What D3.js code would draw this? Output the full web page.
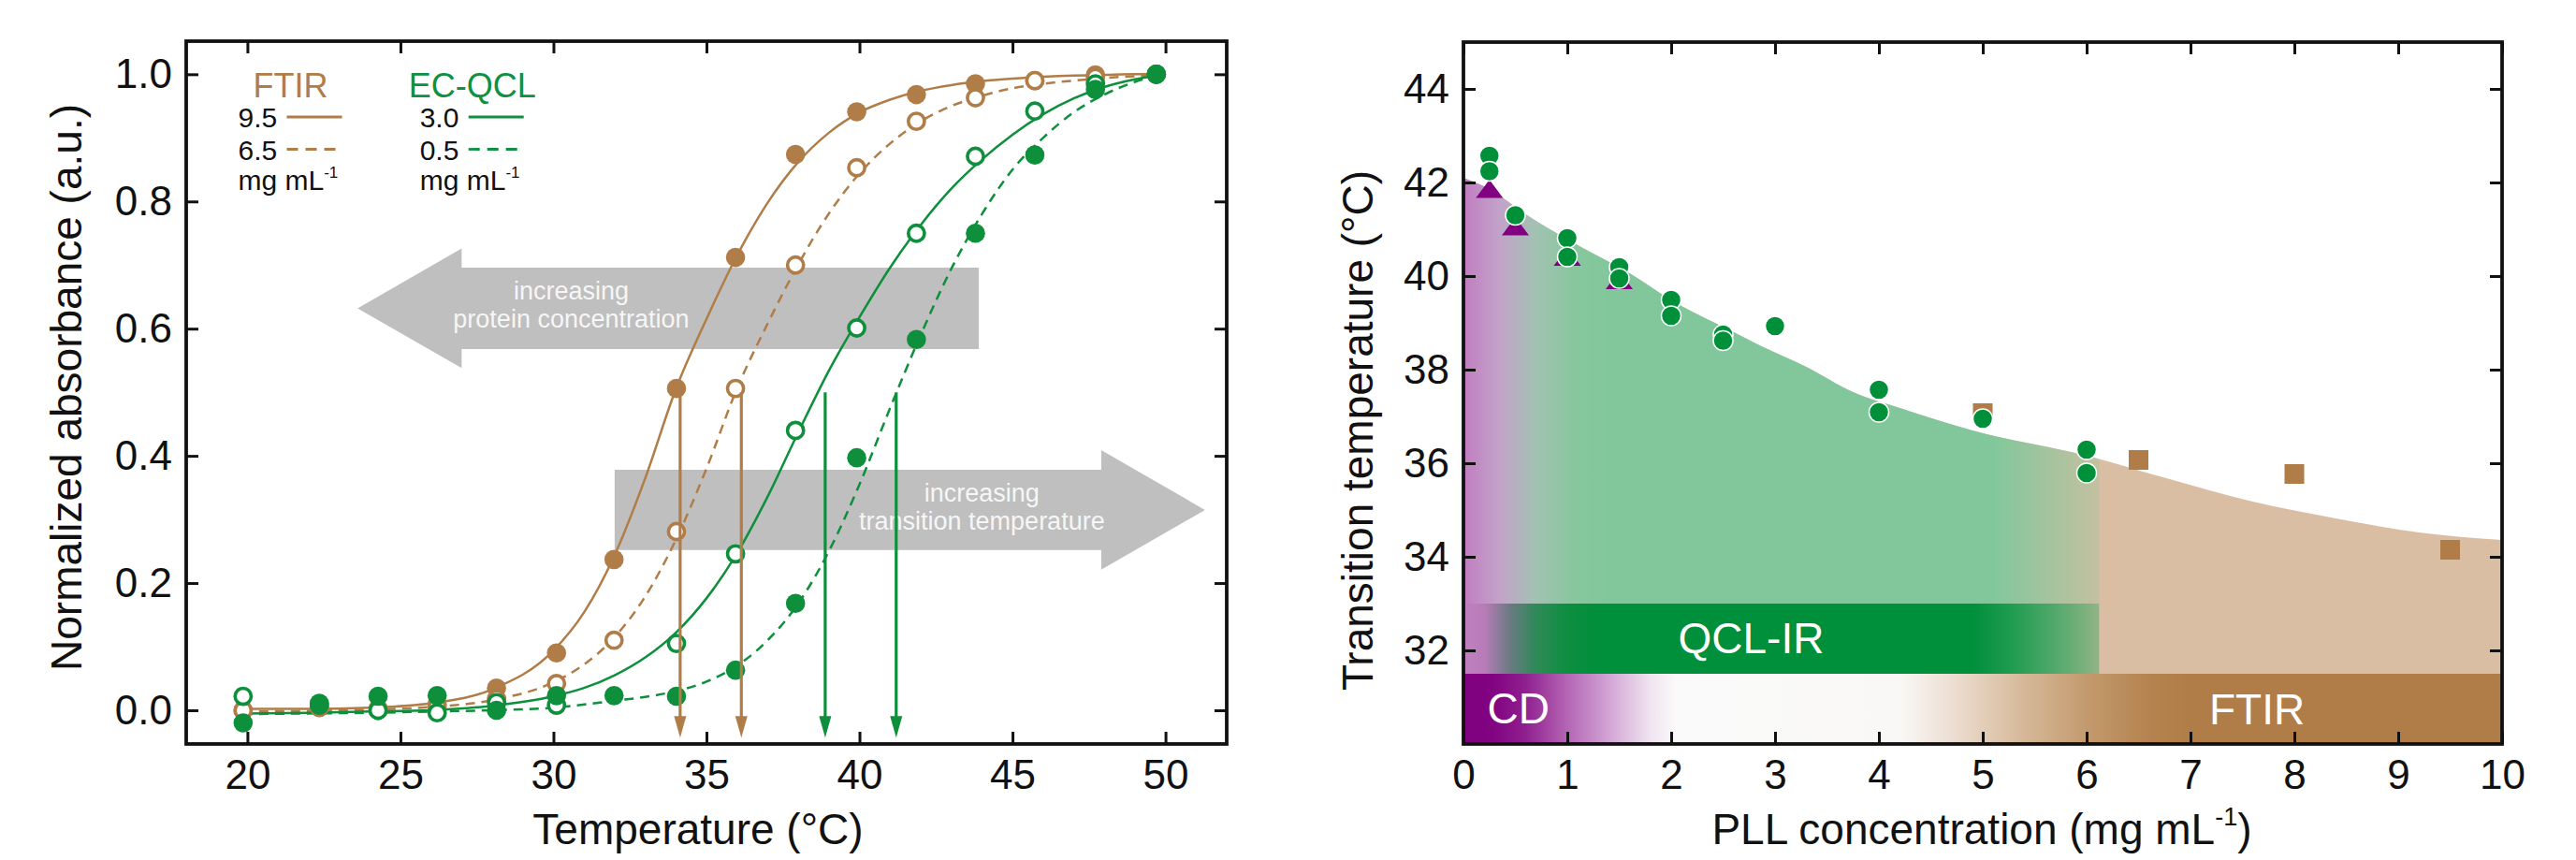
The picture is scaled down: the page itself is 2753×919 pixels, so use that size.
<!DOCTYPE html>
<html>
<head>
<meta charset="utf-8">
<script src="https://cdn.jsdelivr.net/npm/d3@7"></script>
<style>
body { margin: 0; background: #fff; }
svg text { font-family: "Liberation Sans", Arial, Helvetica, sans-serif; }
</style>
</head>
<body>
<svg id="chart" width="2753" height="919"></svg>
<script>
// ---------- left panel: melting curves ----------
var temps  = [19.86, 22.35, 24.27, 26.2, 28.14, 30.1, 31.98, 34.02, 35.95, 37.91, 39.91, 41.86, 43.79, 45.73, 47.71, 49.7];
var ftir95 = [0.0, 0.004, 0.003, 0.009, 0.035, 0.09, 0.237, 0.506, 0.712, 0.874, 0.941, 0.968, 0.985, 0.99, 0.999, 1.0];
var ftir65 = [0.0, 0.005, 0.0, 0.006, 0.018, 0.042, 0.11, 0.281, 0.506, 0.70, 0.853, 0.926, 0.963, 0.99, 0.995, 1.0];
var qcl30  = [0.022, 0.008, 0.0, -0.004, 0.012, 0.008, null, 0.105, 0.246, 0.44, 0.601, 0.75, 0.871, 0.942, 0.985, 1.0];
var qcl05  = [-0.02, 0.011, 0.022, 0.023, 0.0, 0.023, 0.023, 0.022, 0.063, 0.168, 0.397, 0.583, 0.75, 0.873, 0.976, 1.0];

var fitTemps = [19.86, 22, 24, 26, 28, 30, 31, 32, 33, 34, 35, 36, 37, 38, 39, 40, 41, 42, 43, 44, 45, 46, 47, 48, 49, 49.7];
var fit95 = [0.002, 0.002, 0.004, 0.011, 0.033, 0.094, 0.154, 0.244, 0.365, 0.505, 0.615, 0.715, 0.798, 0.862, 0.908, 0.94, 0.96, 0.974, 0.983, 0.989, 0.993, 0.996, 0.998, 0.999, 1.0, 1.0];
var fit65 = [-0.002, -0.001, 0.001, 0.005, 0.016, 0.044, 0.072, 0.115, 0.179, 0.268, 0.38, 0.506, 0.608, 0.701, 0.781, 0.844, 0.891, 0.926, 0.95, 0.966, 0.978, 0.985, 0.99, 0.994, 0.997, 0.998];
var fit30 = [-0.005, -0.004, -0.002, 0.0, 0.007, 0.022, 0.035, 0.055, 0.083, 0.122, 0.176, 0.247, 0.336, 0.437, 0.534, 0.618, 0.696, 0.763, 0.82, 0.866, 0.905, 0.937, 0.962, 0.98, 0.992, 0.998];
var fit05 = [-0.006, -0.005, -0.004, -0.002, 0.0, 0.004, 0.009, 0.015, 0.021, 0.03, 0.045, 0.07, 0.11, 0.168, 0.25, 0.355, 0.475, 0.59, 0.694, 0.78, 0.85, 0.9, 0.94, 0.968, 0.988, 0.998];

var midTemps  = [34.14, 36.14, 38.88, 41.2];
var midColors = ["brown", "brown", "green", "green"];

var xTicksL = [20, 25, 30, 35, 40, 45, 50];
var yTicksL = [0, 0.2, 0.4, 0.6, 0.8, 1.0];

// ---------- right panel: transition temperature ----------
var qclConc  = [0.25, 0.25, 0.5, 1, 1, 1.5, 1.5, 2, 2, 2.5, 2.5, 3, 4, 4, 5, 6, 6];
var qclTm    = [42.57, 42.24, 41.3, 40.81, 40.41, 40.19, 39.95, 39.49, 39.15, 38.75, 38.62, 38.93, 37.57, 37.09, 36.95, 36.29, 35.79];
var ftirConc = [5, 6.5, 8, 9.5];
var ftirTm   = [37.07, 36.07, 35.77, 34.15];
var cdConc   = [0.25, 0.5, 1, 1.5];
var cdTm     = [41.8, 41.0, 40.35, 39.85];
var edgeConc = [0, 0.25, 0.6, 1.1, 1.6, 2.05, 2.55, 2.85, 3.3, 3.75, 4.2, 4.9, 6.0, 6.8, 7.6, 8.4, 9.2, 10];
var edgeTm   = [42.1, 41.86, 41.32, 40.66, 40.06, 39.42, 38.86, 38.52, 38.06, 37.52, 37.18, 36.7, 36.16, 35.66, 35.18, 34.82, 34.52, 34.36];

var xTicksR = [0, 1, 2, 3, 4, 5, 6, 7, 8, 9, 10];
var yTicksR = [32, 34, 36, 38, 40, 42, 44];

var col = { brown: "#b07d48", green: "#0d8f3c", dark: "#111" };

var svg = d3.select("#chart");
var defs = svg.append("defs");

var xL = d3.scaleLinear().domain([18, 52]).range([199, 1311]);
var yL = d3.scaleLinear().domain([-0.053, 1.052]).range([795, 44]);
var xR = d3.scaleLinear().domain([0, 10]).range([1564, 2674]);
var yR = d3.scaleLinear().domain([30, 45]).range([795, 45]);

function frameAxes(x, y, xt, yt, fmtY) {
    var g = svg.append("g");
    var x0 = x.range()[0], x1 = x.range()[1], y0 = y.range()[0], y1 = y.range()[1];
    g.append("g").attr("transform", `translate(0,${y0})`)
        .call(d3.axisBottom(x).tickValues(xt).tickSize(-13).tickPadding(17).tickFormat(d3.format("d")));
    g.append("g").attr("transform", `translate(0,${y1})`)
        .call(d3.axisTop(x).tickValues(xt).tickSize(-13).tickFormat(""));
    g.append("g").attr("transform", `translate(${x0},0)`)
        .call(d3.axisLeft(y).tickValues(yt).tickSize(-13).tickPadding(15).tickFormat(fmtY));
    g.append("g").attr("transform", `translate(${x1},0)`)
        .call(d3.axisRight(y).tickValues(yt).tickSize(-13).tickFormat(""));
    g.selectAll(".domain").remove();
    g.selectAll(".tick line").attr("stroke", col.dark).attr("stroke-width", 3);
    g.selectAll(".tick text").attr("font-size", 44).attr("fill", col.dark)
        .attr("font-family", '"Liberation Sans", Arial, sans-serif');
    g.append("rect").attr("x", x0).attr("y", y1).attr("width", x1 - x0).attr("height", y0 - y1)
        .attr("fill", "none").attr("stroke", col.dark).attr("stroke-width", 3.8);
}

// ===== LEFT PANEL =====
// big grey arrows
var grey = "#bfbfbf";
function hArrow(tail, headBase, tip, yc, bh, hh) {
    return [[tail, yc + bh], [headBase, yc + bh], [headBase, yc + hh], [tip, yc],
            [headBase, yc - hh], [headBase, yc - bh], [tail, yc - bh]];
}
var polyLine = d3.line().x(d => xL(d[0])).y(d => yL(d[1]));
svg.append("path").attr("d", polyLine(hArrow(43.9, 27.0, 23.6, 0.632, 0.064, 0.094)) + "Z").attr("fill", grey);
svg.append("path").attr("d", polyLine(hArrow(32.0, 47.9, 51.29, 0.315, 0.063, 0.094)) + "Z").attr("fill", grey);

function arrowText(xc, lines, ys) {
    var t = svg.append("text").attr("text-anchor", "middle").attr("font-size", 27).attr("fill", "#f6f6f6");
    lines.forEach((s, i) => t.append("tspan").attr("x", xL(xc)).attr("y", yL(ys[i])).text(s));
}
arrowText(30.58, ["increasing", "protein concentration"], [0.646, 0.602]);
arrowText(44.0, ["increasing", "transition temperature"], [0.3287, 0.2835]);

// fitted curves
var fitLine = d3.line().x(d => xL(d[0])).y(d => yL(d[1])).curve(d3.curveMonotoneX);
[[fit95, col.brown, null], [fit65, col.brown, "10,7"], [fit30, col.green, null], [fit05, col.green, "10,7"]]
    .forEach(function (s) {
        svg.append("path").datum(d3.zip(fitTemps, s[0])).attr("d", fitLine)
            .attr("fill", "none").attr("stroke", s[1]).attr("stroke-width", 2.5)
            .attr("stroke-dasharray", s[2]);
    });

// data points
function dots(vals, color, open) {
    svg.append("g").selectAll("circle")
        .data(d3.zip(temps, vals).filter(d => d[1] != null))
        .join("circle")
        .attr("cx", d => xL(d[0])).attr("cy", d => yL(d[1]))
        .attr("r", open ? 8.6 : 10.3)
        .attr("fill", open ? "#fff" : color)
        .attr("stroke", open ? color : "none")
        .attr("stroke-width", 3.6);
}
dots(ftir95, col.brown, false);
dots(ftir65, col.brown, true);
dots(qcl30, col.green, true);
dots(qcl05, col.green, false);

// midpoint arrows
var arrG = svg.append("g");
midTemps.forEach(function (t, i) {
    var c = col[midColors[i]], xp = xL(t), yTop = yL(0.5), yTip = yL(-0.043);
    arrG.append("line").attr("x1", xp).attr("x2", xp).attr("y1", yTop).attr("y2", yTip - 16)
        .attr("stroke", c).attr("stroke-width", 3.2);
    arrG.append("path").attr("d", `M${xp - 6.5},${yTip - 23}L${xp + 6.5},${yTip - 23}L${xp},${yTip}Z`).attr("fill", c);
});

frameAxes(xL, yL, xTicksL, yTicksL, d3.format(".1f"));

// legend
function legendBlock(x, title, color, vals) {
    svg.append("text").attr("x", x + 56).attr("y", 104).attr("text-anchor", "middle")
        .attr("font-size", 36).attr("fill", color).text(title);
    vals.forEach(function (v, i) {
        var by = [136, 170.5][i];
        svg.append("text").attr("x", x).attr("y", by).attr("font-size", 30).attr("fill", col.dark).text(v);
        svg.append("line").attr("x1", x + 52).attr("x2", x + 111).attr("y1", by - 11).attr("y2", by - 11)
            .attr("stroke", color).attr("stroke-width", 2.8).attr("stroke-dasharray", i ? "12,8" : null);
    });
    var u = svg.append("text").attr("x", x).attr("y", 203).attr("font-size", 30).attr("fill", col.dark);
    u.append("tspan").text("mg mL");
    u.append("tspan").attr("font-size", 17).attr("dy", -13).text("-1");
}
legendBlock(254.5, "FTIR", col.brown, ["9.5", "6.5"]);
legendBlock(448.7, "EC-QCL", "#109040", ["3.0", "0.5"]);

// titles
svg.append("text").attr("x", 746).attr("y", 902).attr("text-anchor", "middle")
    .attr("font-size", 46).attr("fill", col.dark).text("Temperature (°C)");
svg.append("text").attr("transform", "translate(87,414) rotate(-90)").attr("text-anchor", "middle")
    .attr("font-size", 46).attr("fill", col.dark).text("Normalized absorbance (a.u.)");

// ===== RIGHT PANEL =====
function grad(id, stops) {
    var g = defs.append("linearGradient").attr("id", id).attr("gradientUnits", "userSpaceOnUse")
        .attr("x1", xR(0)).attr("x2", xR(10)).attr("y1", 0).attr("y2", 0);
    stops.forEach(s => g.append("stop").attr("offset", s[0] / 10).attr("stop-color", s[1])
        .attr("stop-opacity", s.length > 2 ? s[2] : 1));
}
grad("lightGrad", [[0, "#c17dc2"], [0.35, "#c2a3c9"], [0.7, "#a2c2b2"], [1.05, "#88c69f"], [1.4, "#82c79b"],
                   [5.1, "#82c79b"], [6.12, "#82c79b", 0.25], [10, "#82c79b", 0.25]]);
grad("qclGrad", [[0, "#c080c0"], [0.2, "#b87cb8"], [0.45, "#6a7a80"], [0.7, "#2e8a58"], [1.0, "#0e8e40"], [1.3, "#008f3a"],
                 [4.9, "#008f3a"], [6.12, "#008f3a", 0.25], [10, "#008f3a", 0.25]]);
grad("cdGrad", [[0, "#800080"], [0.3, "#820482"], [0.6, "#902090"], [1.0, "#b466b4"], [1.4, "#d2a4d4"], [1.8, "#f0e4f0"],
                [2.05, "#fafafa"], [4.2, "#f9f8f6"], [4.8, "#ead9ca"], [5.4, "#d6b898"], [6.0, "#c39a6e"], [6.6, "#b5834f"],
                [7.0, "#b07d48"], [10, "#b07d48"]]);

defs.append("clipPath").attr("id", "qclClip").append("rect")
    .attr("x", xR(0)).attr("y", yR(45)).attr("width", xR(6.12) - xR(0)).attr("height", yR(30) - yR(45));

var edge = d3.zip(edgeConc, edgeTm);
var area = d3.area().x(d => xR(d[0])).y0(yR(31.5)).y1(d => yR(d[1])).curve(d3.curveMonotoneX);
svg.append("path").datum(edge).attr("d", area).attr("fill", "#d9bea3");
svg.append("path").datum(edge).attr("d", area).attr("fill", "url(#lightGrad)").attr("clip-path", "url(#qclClip)");
svg.append("rect").attr("x", xR(0)).attr("y", yR(33)).attr("width", xR(6.12) - xR(0)).attr("height", yR(31.5) - yR(33))
    .attr("fill", "url(#qclGrad)");
svg.append("rect").attr("x", xR(0)).attr("y", yR(31.5)).attr("width", xR(10) - xR(0)).attr("height", yR(30) - yR(31.5))
    .attr("fill", "url(#cdGrad)");

svg.append("text").attr("x", xR(2.77)).attr("y", yR(31.94)).attr("text-anchor", "middle")
    .attr("font-size", 46).attr("fill", "#fff").text("QCL-IR");
svg.append("text").attr("x", xR(0.23)).attr("y", yR(30.44))
    .attr("font-size", 46).attr("fill", "#fff").text("CD");
svg.append("text").attr("x", xR(7.64)).attr("y", yR(30.42)).attr("text-anchor", "middle")
    .attr("font-size", 46).attr("fill", "#fff").text("FTIR");

// FTIR squares
svg.append("g").selectAll("rect").data(d3.zip(ftirConc, ftirTm)).join("rect")
    .attr("x", d => xR(d[0]) - 10.5).attr("y", d => yR(d[1]) - 10.5).attr("width", 21).attr("height", 21)
    .attr("fill", col.brown);
// CD triangles
svg.append("g").selectAll("path").data(d3.zip(cdConc, cdTm)).join("path")
    .attr("d", "M0,-13L14.5,6.5L-14.5,6.5Z")
    .attr("transform", d => `translate(${xR(d[0])},${yR(d[1])})`)
    .attr("fill", "#800080");
// QCL circles
svg.append("g").selectAll("circle").data(d3.zip(qclConc, qclTm)).join("circle")
    .attr("cx", d => xR(d[0])).attr("cy", d => yR(d[1])).attr("r", 10.5)
    .attr("fill", "#00903a").attr("stroke", "#fff").attr("stroke-width", 1.5);

frameAxes(xR, yR, xTicksR, yTicksR, d3.format("d"));

var xt = svg.append("text").attr("x", 2118).attr("y", 902).attr("text-anchor", "middle")
    .attr("font-size", 46).attr("fill", col.dark);
xt.append("tspan").text("PLL concentration (mg mL");
xt.append("tspan").attr("font-size", 27).attr("dy", -20).text("-1");
xt.append("tspan").attr("dy", 20).text(")");
svg.append("text").attr("transform", "translate(1467,460) rotate(-90)").attr("text-anchor", "middle")
    .attr("font-size", 46).attr("fill", col.dark).text("Transition temperature (°C)");
</script>
</body>
</html>
